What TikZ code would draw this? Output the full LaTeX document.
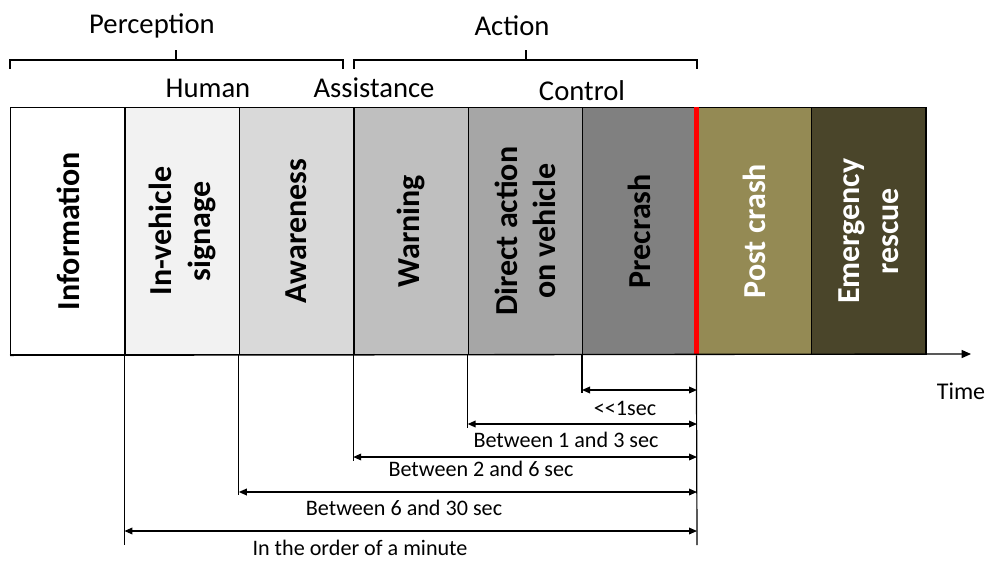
\documentclass[tikz,border=0pt]{standalone}
\usepackage{fontspec}
\setmainfont{Carlito}
\usetikzlibrary{arrows.meta}
\definecolor{c1}{HTML}{FFFFFF}
\definecolor{c2}{HTML}{F2F2F2}
\definecolor{c3}{HTML}{D9D9D9}
\definecolor{c4}{HTML}{BFBFBF}
\definecolor{c5}{HTML}{A6A6A6}
\definecolor{c6}{HTML}{808080}
\definecolor{c7}{HTML}{948A54}
\definecolor{c8}{HTML}{4A452A}
\begin{document}
\begin{tikzpicture}[x=0.75pt,y=-0.75pt,
  phase/.style={draw=black, line width=1pt, minimum width=85.8pt, minimum height=185.25pt,
    inner sep=0pt, anchor=north west},
  phaselabel/.style={rotate=90, font=\fontsize{24}{29}\selectfont\bfseries, align=center},
  toplabel/.style={font=\fontsize{21.5}{25}\selectfont},
  spanlabel/.style={font=\fontsize{16.6}{20}\selectfont},
  bracket/.style={line width=0.8pt},
  drop/.style={line width=0.9pt},
  span/.style={line width=1pt, {Triangle[length=6pt,width=5pt]}-{Triangle[length=6pt,width=5pt]}},
  axis/.style={line width=1pt, -{Triangle[length=7pt,width=6pt]}}]
\useasboundingbox (0,0) rectangle (987,560);

% timeline phases
\node[phase, fill=c1] (b1) at (10,107) {};
\node[phase, fill=c2] (b2) at (124.4,107) {};
\node[phase, fill=c3] (b3) at (238.8,107) {};
\node[phase, fill=c4] (b4) at (353.2,107) {};
\node[phase, fill=c5] (b5) at (467.6,107) {};
\node[phase, fill=c6] (b6) at (582,107) {};
\node[phase, fill=c7] (b7) at (696.4,107) {};
\node[phase, fill=c8] (b8) at (810.8,107) {};

\node[phaselabel] (l1) at (b1.center) {Information};
\node[phaselabel] (l2) at (b2.center) {In-vehicle\\signage};
\node[phaselabel] (l3) at (b3.center) {Awareness};
\node[phaselabel] (l4) at (b4.center) {Warning};
\node[phaselabel] (l5) at (b5.center) {Direct action\\on vehicle};
\node[phaselabel] (l6) at (b6.center) {Precrash};
\node[phaselabel, text=white] (l7) at (b7.center) {Post crash};
\node[phaselabel, text=white] (l8) at (b8.center) {Emergency\\rescue};

% crash instant
\draw[red, line width=3.75pt] (b7.north west) -- (b7.south west);

% time axis
\coordinate (tend) at (971,354);
\draw[axis] (b1.south west) -- (tend);
\node[font=\fontsize{18}{22}\selectfont] (time) at (961,391) {Time};

% top brackets
\coordinate (p1) at (10,69);
\coordinate (p2) at (10,60);
\coordinate (p3) at (343,60);
\coordinate (p4) at (343,69);
\coordinate (pm) at (176,60);
\coordinate (pt) at (176,50);
\draw[bracket] (p1) -- (p2) -- (p3) -- (p4);
\draw[bracket] (pm) -- (pt);
\coordinate (q1) at (354,69);
\coordinate (q2) at (354,60);
\coordinate (q3) at (697,60);
\coordinate (q4) at (697,69);
\coordinate (qm) at (526,60);
\coordinate (qt) at (526,50);
\draw[bracket] (q1) -- (q2) -- (q3) -- (q4);
\draw[bracket] (qm) -- (qt);

\node[toplabel] (perc) at (152,26) {Perception};
\node[toplabel] (act) at (512,26) {Action};
\node[toplabel] (hum) at (208,88) {Human};
\node[toplabel] (ass) at (374,88) {Assistance};
\node[toplabel] (ctl) at (582,91) {Control};

% drop lines below the phases
\coordinate (d2) at (124.4,545);
\coordinate (d3) at (238.8,495);
\coordinate (d4) at (353.2,461);
\coordinate (d5) at (467.6,428);
\coordinate (d6) at (582,393);
\coordinate (d7) at (697,545);
\draw[drop] (b2.south west) -- (d2);
\draw[drop] (b3.south west) -- (d3);
\draw[drop] (b4.south west) -- (d4);
\draw[drop] (b5.south west) -- (d5);
\draw[drop] (b6.south west) -- (d6);
\draw[drop] (b7.south west) -- (d7);

% durations before the crash
\coordinate (s1a) at (582,390);   \coordinate (s1b) at (697,390);
\coordinate (s2a) at (467.6,424); \coordinate (s2b) at (697,424);
\coordinate (s3a) at (353.2,457); \coordinate (s3b) at (697,457);
\coordinate (s4a) at (238.8,492); \coordinate (s4b) at (697,492);
\coordinate (s5a) at (124.4,531); \coordinate (s5b) at (697,531);
\draw[span] (s1a) -- (s1b);
\draw[span] (s2a) -- (s2b);
\draw[span] (s3a) -- (s3b);
\draw[span] (s4a) -- (s4b);
\draw[span] (s5a) -- (s5b);

\node[spanlabel] (t1) at (625,408) {<{}<1sec};
\node[spanlabel] (t2) at (566,440) {Between 1 and 3 sec};
\node[spanlabel] (t3) at (481,469) {Between 2 and 6 sec};
\node[spanlabel] (t4) at (404,508) {Between 6 and 30 sec};
\node[spanlabel] (t5) at (360,548) {In the order of a minute};
\end{tikzpicture}
\end{document}
